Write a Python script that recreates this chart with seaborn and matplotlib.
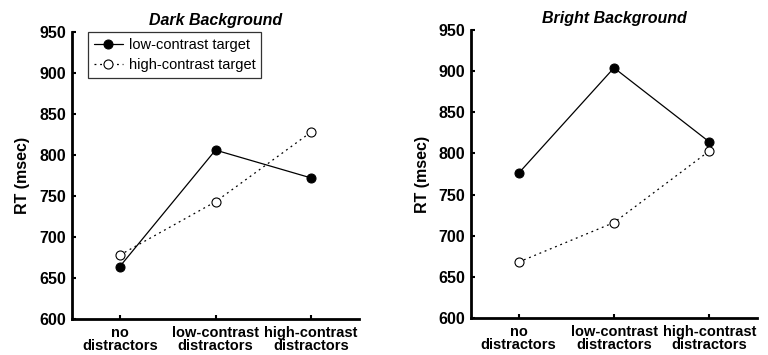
import pandas as pd
import numpy as np
import seaborn as sns
import matplotlib.pyplot as plt

# Data
conditions = ['no\ndistractors', 'low-contrast\ndistractors', 'high-contrast\ndistractors']
dark_low_target = [664, 806, 772]
dark_high_target = [678, 743, 828]
bright_low_target = [776, 904, 814]
bright_high_target = [668, 716, 803]
panel_titles = ['Dark Background', 'Bright Background']
series_names = ['low-contrast target', 'high-contrast target']

sns.set_style('white', {'text.color': 'black', 'axes.labelcolor': 'black'})
plt.rcParams['font.family'] = ['Liberation Sans', 'DejaVu Sans']


def make_frame(low_vals, high_vals):
    rows = []
    for name, vals in zip(series_names, [low_vals, high_vals]):
        for i, v in enumerate(vals):
            rows.append({'pos': i, 'cond': conditions[i], 'target': name, 'rt': v})
    return pd.DataFrame(rows)


def draw_panel(ax, df, title, show_legend):
    low = df[df['target'] == series_names[0]]
    high = df[df['target'] == series_names[1]]
    sns.lineplot(data=low, x='pos', y='rt', ax=ax, color='black', linewidth=0.9,
                 marker='o', markersize=6.5, markerfacecolor='black',
                 markeredgecolor='black', label=series_names[0])
    sns.lineplot(data=high, x='pos', y='rt', ax=ax, color='black', linewidth=0.9,
                 linestyle=(0, (1.5, 3)), marker='o', markersize=6.5,
                 markerfacecolor='white', markeredgecolor='black',
                 markeredgewidth=0.8, label=series_names[1])
    ax.set_xlim(-0.5, 2.5)
    ax.set_ylim(600, 950)
    ax.set_yticks(np.arange(600, 951, 50))
    ax.set_xticks(range(len(conditions)))
    ax.set_xticklabels(conditions, fontweight='bold', fontsize=10.5, linespacing=0.88)
    for lab in ax.get_yticklabels():
        lab.set_fontweight('bold')
        lab.set_fontsize(11.5)
    ax.set_xlabel('')
    ax.set_ylabel('RT (msec)', fontweight='bold', fontsize=11.5, color='black')
    ax.set_title(title, fontstyle='italic', fontweight='bold', fontsize=11.5,
                 pad=5, color='black')
    sns.despine(ax=ax)
    for side in ['left', 'bottom']:
        ax.spines[side].set_linewidth(2)
        ax.spines[side].set_color('black')
    ax.tick_params(axis='y', direction='in', length=3, width=1.5, left=True,
                   pad=4, colors='black')
    ax.tick_params(axis='x', direction='in', length=3, width=1.5, bottom=True,
                   pad=5, colors='black')
    if show_legend:
        leg = ax.legend(loc='upper left', bbox_to_anchor=(0.056, 1.0), frameon=True,
                        fancybox=False, edgecolor='black', fontsize=10.5,
                        handlelength=2.0, borderpad=0.4, labelspacing=0.45,
                        handletextpad=0.4, borderaxespad=0)
        leg.get_frame().set_linewidth(0.9)
        for txt in leg.get_texts():
            txt.set_color('black')
    else:
        ax.get_legend().remove()


fig, axes = plt.subplots(1, 2, figsize=(7.68, 3.55), dpi=100)
draw_panel(axes[0], make_frame(dark_low_target, dark_high_target), panel_titles[0], True)
draw_panel(axes[1], make_frame(bright_low_target, bright_high_target), panel_titles[1], False)

axes[0].set_position([72 / 768, 1 - 319 / 355, 287 / 768, 287 / 355])
axes[1].set_position([471 / 768, 1 - 318 / 355, 286 / 768, 288 / 355])
axes[0].yaxis.set_label_coords(-0.145, 0.5)
axes[1].yaxis.set_label_coords(-0.145, 0.5)

plt.savefig('out.png', dpi=100)
